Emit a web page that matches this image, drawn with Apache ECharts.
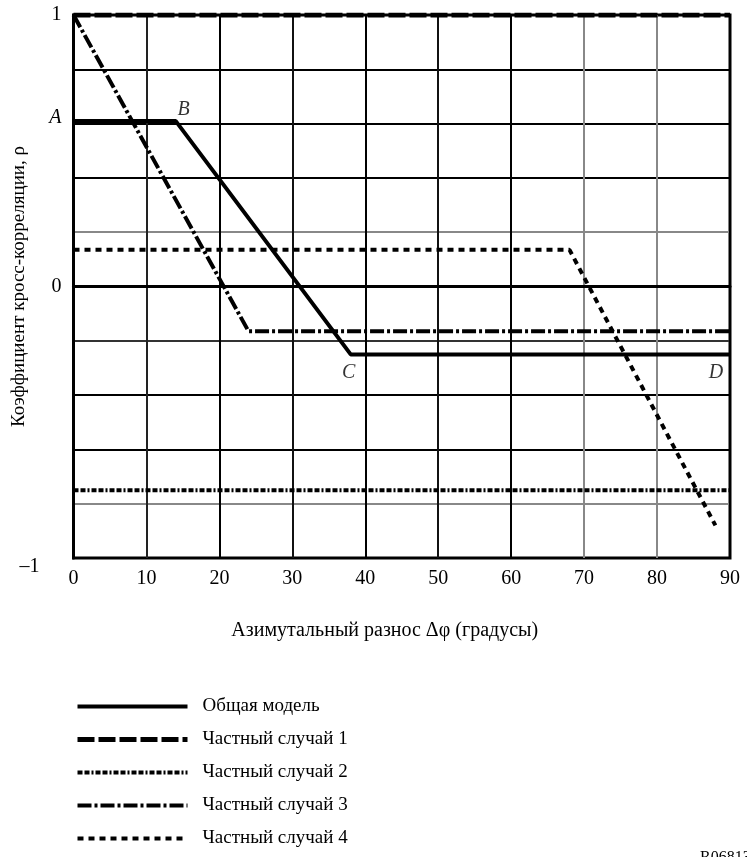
<!DOCTYPE html>
<html>
<head>
<meta charset="utf-8">
<script src="https://cdn.jsdelivr.net/npm/echarts@6/dist/echarts.min.js"></script>
<style>html,body{margin:0;padding:0;background:#fff;}#c{width:747px;height:857px;}</style>
</head>
<body>
<div id="c"></div>
<script>
// Data
const seriesNames = ['Общая модель', 'Частный случай 1', 'Частный случай 2', 'Частный случай 3', 'Частный случай 4'];
const genX = [0, 14, 38, 90];
const genY = [0.61, 0.61, -0.25, -0.25];
const genPointNames = ['', 'B', 'C', 'D'];
const case1X = [0, 90];
const case1Y = [1, 1];
const case2X = [0, 90];
const case2Y = [-0.75, -0.75];
const case3X = [0, 24, 90];
const case3Y = [1, -0.165, -0.165];
const case4X = [0, 68, 88];
const case4Y = [0.135, 0.135, -0.88];
const xTicks = [0, 10, 20, 30, 40, 50, 60, 70, 80, 90];
const yTickLabels = {'1': '1', '0.6': 'A', '0': '0', '-1': '–1'};

const pairs = (xs, ys) => xs.map((x, i) => [x, ys[i]]);
const serif = '"Liberation Serif", "DejaVu Serif", serif';

// styles
const widths = [4, 5, 4, 4, 4];
const dashes = ['solid', [17, 4], [5, 2, 5, 2, 2, 2], [14, 3, 3, 3], [6, 5]];

const chart = echarts.init(document.getElementById('c'));
const lineSeries = (i, xs, ys) => ({
  name: seriesNames[i], type: 'line', data: pairs(xs, ys), symbol: 'none', showSymbol: false,
  animation: false, z: 5, color: '#000',
  itemStyle: {color: '#000'},
  lineStyle: {color: '#000', width: widths[i], type: dashes[i], cap: 'butt'}
});

chart.setOption({
  animation: false,
  backgroundColor: '#fff',
  color: ['#000'],
  grid: {left: 73.5, right: 17, top: 15, bottom: 299, show: true, borderColor: '#000', borderWidth: 3,
         containLabel: false, outerBoundsMode: 'none'},
  xAxis: {
    type: 'value', min: 0, max: 90, interval: 10,
    axisLine: {lineStyle: {color: '#000', width: 3}},
    axisTick: {show: false},
    axisLabel: {color: '#000', fontFamily: serif, fontSize: 20, margin: 11},
    splitLine: {show: true, lineStyle: {width: 2, color: ['#000', '#222', '#000', '#111', '#000', '#111', '#000', '#888', '#888', '#000']}},
    name: 'Азимутальный разнос Δφ (градусы)', nameLocation: 'middle', nameGap: 63, nameMoveOverlap: false,
    nameTextStyle: {color: '#000', fontFamily: serif, fontSize: 20, padding: [0, 34, 0, 0]}
  },
  yAxis: {
    type: 'value', min: -1, max: 1, interval: 0.2,
    axisLine: {show: true, lineStyle: {color: '#000', width: 3}},
    axisTick: {show: false},
    axisLabel: {
      color: '#000', fontFamily: serif, fontSize: 20, margin: 12,
      formatter: function (v) {
        const k = String(Math.round(v * 10) / 10);
        const t = yTickLabels[k];
        if (t === undefined) return '';
        if (t === 'A') return '{i|A}';
        if (t === '–1') return '{m|–1}';
        return t;
      },
      rich: {
        i: {fontStyle: 'italic', fontFamily: serif, fontSize: 20, color: '#000', padding: [0, 0, 12, 0]},
        m: {fontFamily: serif, fontSize: 20, color: '#000', padding: [18, 22, 0, 0]}
      }
    },
    splitLine: {show: true, lineStyle: {width: 2, color: ['#000', '#888', '#000', '#000', '#333', '#000', '#888', '#000', '#000', '#000', '#000']}},
    name: 'Коэффициент кросс-корреляции, ρ', nameLocation: 'middle', nameGap: 45, nameRotate: 90,
    nameMoveOverlap: false,
    nameTextStyle: {color: '#000', fontFamily: serif, fontSize: 19}
  },
  legend: {
    orient: 'vertical', left: 75, top: 697, itemWidth: 110, itemHeight: 14, itemGap: 14, padding: 0,
    height: 158,
    data: seriesNames.map((n, i) => ({
      name: n,
      itemStyle: {opacity: 0},
      lineStyle: {color: '#000', width: widths[i], type: dashes[i], cap: 'butt'}
    })),
    textStyle: {color: '#000', fontFamily: serif, fontSize: 19, padding: [0, 0, 0, 10]}
  },
  series: [
    lineSeries(0, genX, genY),
    lineSeries(1, case1X, case1Y),
    lineSeries(2, case2X, case2Y),
    lineSeries(3, case3X, case3Y),
    lineSeries(4, case4X, case4Y),
    {
      type: 'scatter', symbolSize: 0, silent: true, z: 6,
      data: pairs(genX, genY).map((p, i) => ({value: p, name: genPointNames[i]})),
      label: {
        show: true, fontFamily: serif, fontStyle: 'italic', fontSize: 20, color: '#000',
        formatter: p => p.name,
        position: 'bottom', distance: 0
      },
      labelLayout: function (params) {
        const n = params.text;
        if (n === 'B') return {dx: 8, dy: -21};
        if (n === 'C') return {dx: -2, dy: 8};
        if (n === 'D') return {dx: -14, dy: 8};
        return {};
      }
    }
  ],
  graphic: [{
    type: 'text', left: 700, top: 850,
    style: {text: 'R068133', font: '16px ' + serif, fill: '#000'}
  }]
});
</script>
</body>
</html>
